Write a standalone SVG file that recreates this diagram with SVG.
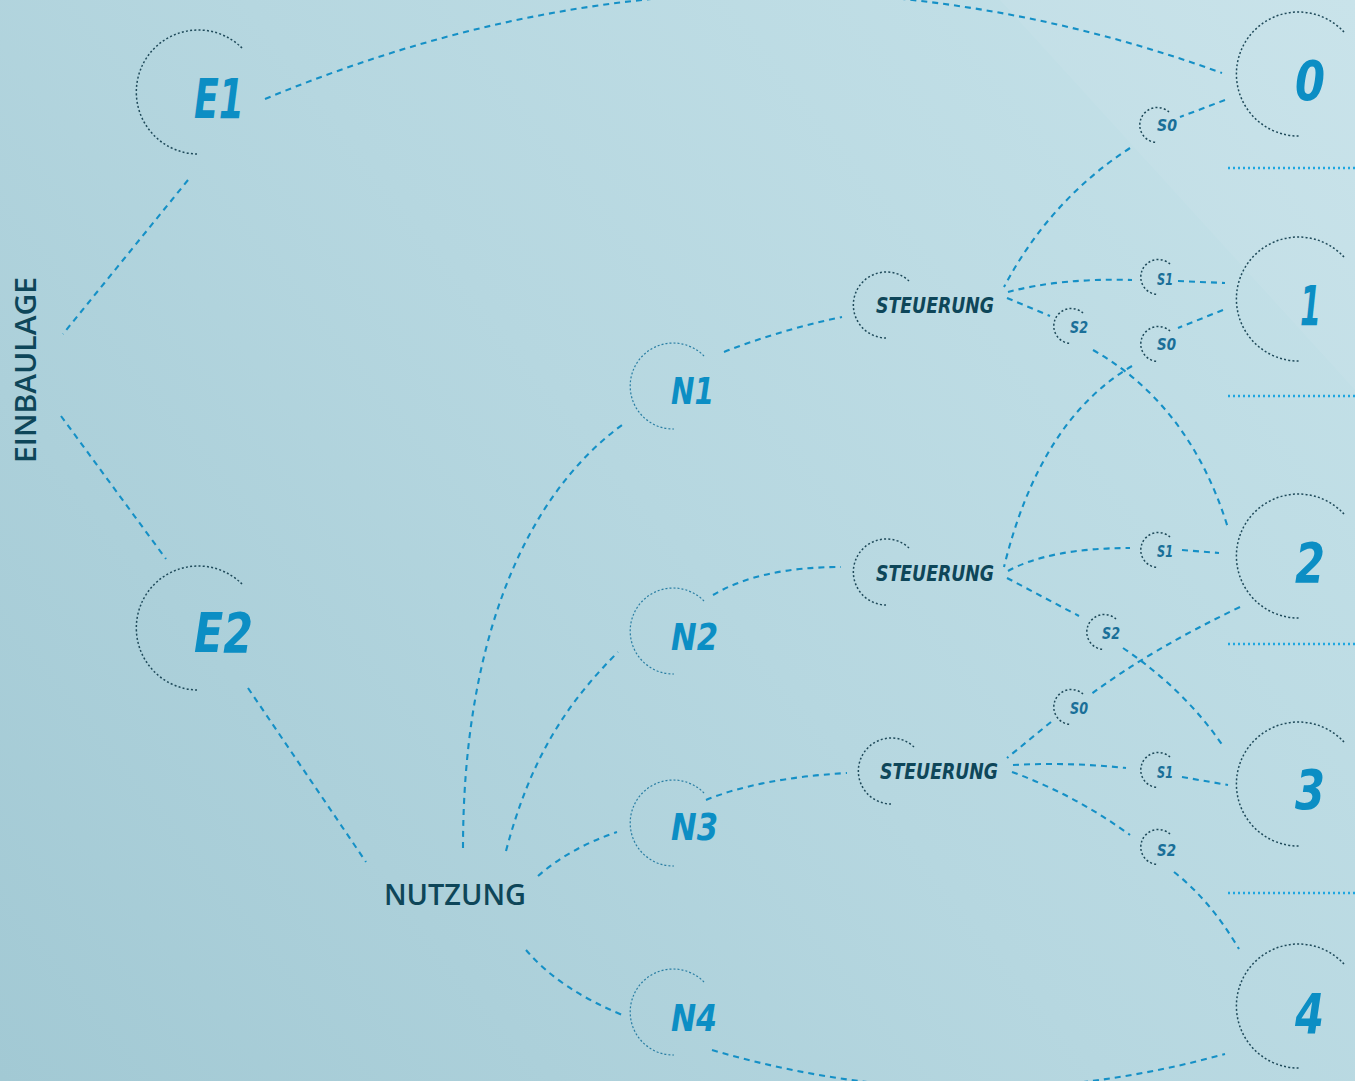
<svg xmlns="http://www.w3.org/2000/svg" width="1355" height="1081" viewBox="0 0 1355 1081">
<defs>
<linearGradient id="bg" x1="1355" y1="0" x2="0" y2="1081" gradientUnits="userSpaceOnUse">
<stop offset="0" stop-color="#c6e2e9"/>
<stop offset="0.5" stop-color="#b6d7e0"/>
<stop offset="1" stop-color="#a2c9d4"/>
</linearGradient>
<style>
.con{fill:none;stroke:#1590c6;stroke-width:2.1;stroke-dasharray:6 5}
.dots{fill:none;stroke:#1ea6e0;stroke-width:2.4;stroke-dasharray:2 3}
.ring{fill:none;stroke:#1f4a5a;stroke-width:1.5;stroke-dasharray:2 2.2}
.ringn{fill:none;stroke:#2a7ea3;stroke-width:1.2;stroke-dasharray:2 2}
.big{font-family:"DejaVu Sans Condensed","Liberation Sans",sans-serif;font-weight:bold;font-style:italic;fill:#0c8ec4;font-size:55px}
.mid{font-family:"DejaVu Sans Condensed","Liberation Sans",sans-serif;font-weight:bold;font-style:italic;fill:#0c8ec4;font-size:38px}
.st{font-family:"DejaVu Sans Condensed","Liberation Sans",sans-serif;font-weight:bold;font-style:italic;fill:#0e4659;font-size:22px}
.sm{font-family:"DejaVu Sans Condensed","Liberation Sans",sans-serif;font-weight:bold;font-style:italic;fill:#1a6f98;font-size:15px}
.cap{font-family:"Open Sans","Liberation Sans",sans-serif;font-weight:600;fill:#0e4659;font-size:28px}
</style>
</defs>
<rect width="1355" height="1081" fill="url(#bg)"/>
<polygon points="1000,0 1355,0 1355,390" fill="#ffffff" opacity="0.06"/>

<g id="connectors">
<path class="con" d="M265,99 Q743,-100 1222,73"/>
<path class="con" d="M188,180 L63,334"/>
<path class="con" d="M61,416 L166,559"/>
<path class="con" d="M248,688 L366,862"/>
<path class="con" d="M463,848 C463,650 520,500 622,425"/>
<path class="con" d="M506,851 C530,760 565,705 618,652"/>
<path class="con" d="M538,876 Q570,848 617,832"/>
<path class="con" d="M526,950 Q560,990 625,1016"/>
<path class="con" d="M724,352 Q780,330 842,317"/>
<path class="con" d="M713,595 Q760,567 841,567"/>
<path class="con" d="M706,800 Q760,778 847,773"/>
<path class="con" d="M712,1050 Q968,1125 1225,1054"/>
<path class="con" d="M1225,100 L1180,117"/>
<path class="con" d="M1130,148 Q1050,200 1004,287"/>
<path class="con" d="M1008,292 Q1060,278 1132,280"/>
<path class="con" d="M1178,281 L1225,283"/>
<path class="con" d="M1007,298 L1050,316"/>
<path class="con" d="M1093,350 Q1190,405 1228,528"/>
<path class="con" d="M1223,310 L1178,328"/>
<path class="con" d="M1132,366 Q1040,420 1004,567"/>
<path class="con" d="M1008,571 Q1050,548 1130,548"/>
<path class="con" d="M1182,550 L1219,553"/>
<path class="con" d="M1007,578 L1079,616"/>
<path class="con" d="M1123,648 Q1185,690 1223,746"/>
<path class="con" d="M1240,607 Q1150,650 1090,695"/>
<path class="con" d="M1051,722 L1007,758"/>
<path class="con" d="M1013,765 Q1070,762 1126,768"/>
<path class="con" d="M1182,777 L1228,785"/>
<path class="con" d="M1012,772 Q1075,795 1130,835"/>
<path class="con" d="M1174,872 Q1210,900 1239,949"/>
<path class="dots" d="M1228,168 H1355 M1228,396 H1355 M1228,644 H1355 M1228,893 H1355"/>
</g>

<g id="einbaulage"><text class="cap" transform="translate(36,463) rotate(-90)" textLength="186" lengthAdjust="spacingAndGlyphs">EINBAULAGE</text></g>
<g id="nutzung"><text class="cap" x="384" y="905" textLength="142" lengthAdjust="spacingAndGlyphs">NUTZUNG</text></g>

<g id="E1"><path class="ring" d="M242,48 A62,62 0 1 0 198,154"/><text class="big" x="194" y="118" textLength="50" lengthAdjust="spacingAndGlyphs">E1</text></g>
<g id="E2"><path class="ring" d="M242,584 A62,62 0 1 0 198,690"/><text class="big" x="194" y="652" textLength="59" lengthAdjust="spacingAndGlyphs">E2</text></g>

<g id="N1"><path class="ringn" d="M704,356 A43,43 0 1 0 674,429"/><text class="mid" x="671" y="404" textLength="43" lengthAdjust="spacingAndGlyphs">N1</text></g>
<g id="N2"><path class="ringn" d="M704,601 A43,43 0 1 0 674,674"/><text class="mid" x="671" y="650" textLength="47" lengthAdjust="spacingAndGlyphs">N2</text></g>
<g id="N3"><path class="ringn" d="M704,793 A43,43 0 1 0 674,866"/><text class="mid" x="671" y="840" textLength="47" lengthAdjust="spacingAndGlyphs">N3</text></g>
<g id="N4"><path class="ringn" d="M704,982 A43,43 0 1 0 674,1055"/><text class="mid" x="671" y="1031" textLength="46" lengthAdjust="spacingAndGlyphs">N4</text></g>

<g id="St1"><path class="ring" d="M909,281 A33,33 0 1 0 886,338"/><text class="st" x="876" y="313" textLength="118" lengthAdjust="spacingAndGlyphs">STEUERUNG</text></g>
<g id="St2"><path class="ring" d="M909,548 A33,33 0 1 0 886,605"/><text class="st" x="876" y="581" textLength="118" lengthAdjust="spacingAndGlyphs">STEUERUNG</text></g>
<g id="St3"><path class="ring" d="M914,747 A33,33 0 1 0 891,804"/><text class="st" x="880" y="779" textLength="118" lengthAdjust="spacingAndGlyphs">STEUERUNG</text></g>

<g id="S0a"><path class="ring" d="M1169,112 A17.5,17.5 0 1 0 1157,142.5"/><text class="sm" x="1157" y="131" textLength="20" lengthAdjust="spacingAndGlyphs">S0</text></g>
<g id="S1a"><path class="ring" d="M1170,264 A17.5,17.5 0 1 0 1158,294.5"/><text class="sm" x="1157" y="285" textLength="16" lengthAdjust="spacingAndGlyphs">S1</text></g>
<g id="S2a"><path class="ring" d="M1083,313 A17.5,17.5 0 1 0 1071,343.5"/><text class="sm" x="1070" y="333" textLength="18" lengthAdjust="spacingAndGlyphs">S2</text></g>
<g id="S0b"><path class="ring" d="M1170,331 A17.5,17.5 0 1 0 1158,361.5"/><text class="sm" x="1157" y="350" textLength="19" lengthAdjust="spacingAndGlyphs">S0</text></g>
<g id="S1b"><path class="ring" d="M1170,537 A17.5,17.5 0 1 0 1158,567.5"/><text class="sm" x="1157" y="557" textLength="16" lengthAdjust="spacingAndGlyphs">S1</text></g>
<g id="S2b"><path class="ring" d="M1116,619 A17.5,17.5 0 1 0 1104,649.5"/><text class="sm" x="1102" y="639" textLength="18" lengthAdjust="spacingAndGlyphs">S2</text></g>
<g id="S0c"><path class="ring" d="M1083,694 A17.5,17.5 0 1 0 1071,724.5"/><text class="sm" x="1070" y="714" textLength="18" lengthAdjust="spacingAndGlyphs">S0</text></g>
<g id="S1c"><path class="ring" d="M1170,757 A17.5,17.5 0 1 0 1158,787.5"/><text class="sm" x="1157" y="778" textLength="16" lengthAdjust="spacingAndGlyphs">S1</text></g>
<g id="S2c"><path class="ring" d="M1170,834 A17.5,17.5 0 1 0 1158,864.5"/><text class="sm" x="1157" y="856" textLength="19" lengthAdjust="spacingAndGlyphs">S2</text></g>

<g id="R0"><path class="ring" d="M1344,32 A62,62 0 1 0 1300,136"/><text class="big" x="1295" y="100" textLength="30" lengthAdjust="spacingAndGlyphs">0</text></g>
<g id="R1"><path class="ring" d="M1344,257 A62,62 0 1 0 1300,361"/><text class="big" x="1300" y="325" textLength="21" lengthAdjust="spacingAndGlyphs">1</text></g>
<g id="R2"><path class="ring" d="M1344,514 A62,62 0 1 0 1300,618"/><text class="big" x="1295" y="582" textLength="30" lengthAdjust="spacingAndGlyphs">2</text></g>
<g id="R3"><path class="ring" d="M1344,742 A62,62 0 1 0 1300,846"/><text class="big" x="1295" y="809" textLength="30" lengthAdjust="spacingAndGlyphs">3</text></g>
<g id="R4"><path class="ring" d="M1344,964 A62,62 0 1 0 1300,1068"/><text class="big" x="1295" y="1033" textLength="29" lengthAdjust="spacingAndGlyphs">4</text></g>
</svg>
